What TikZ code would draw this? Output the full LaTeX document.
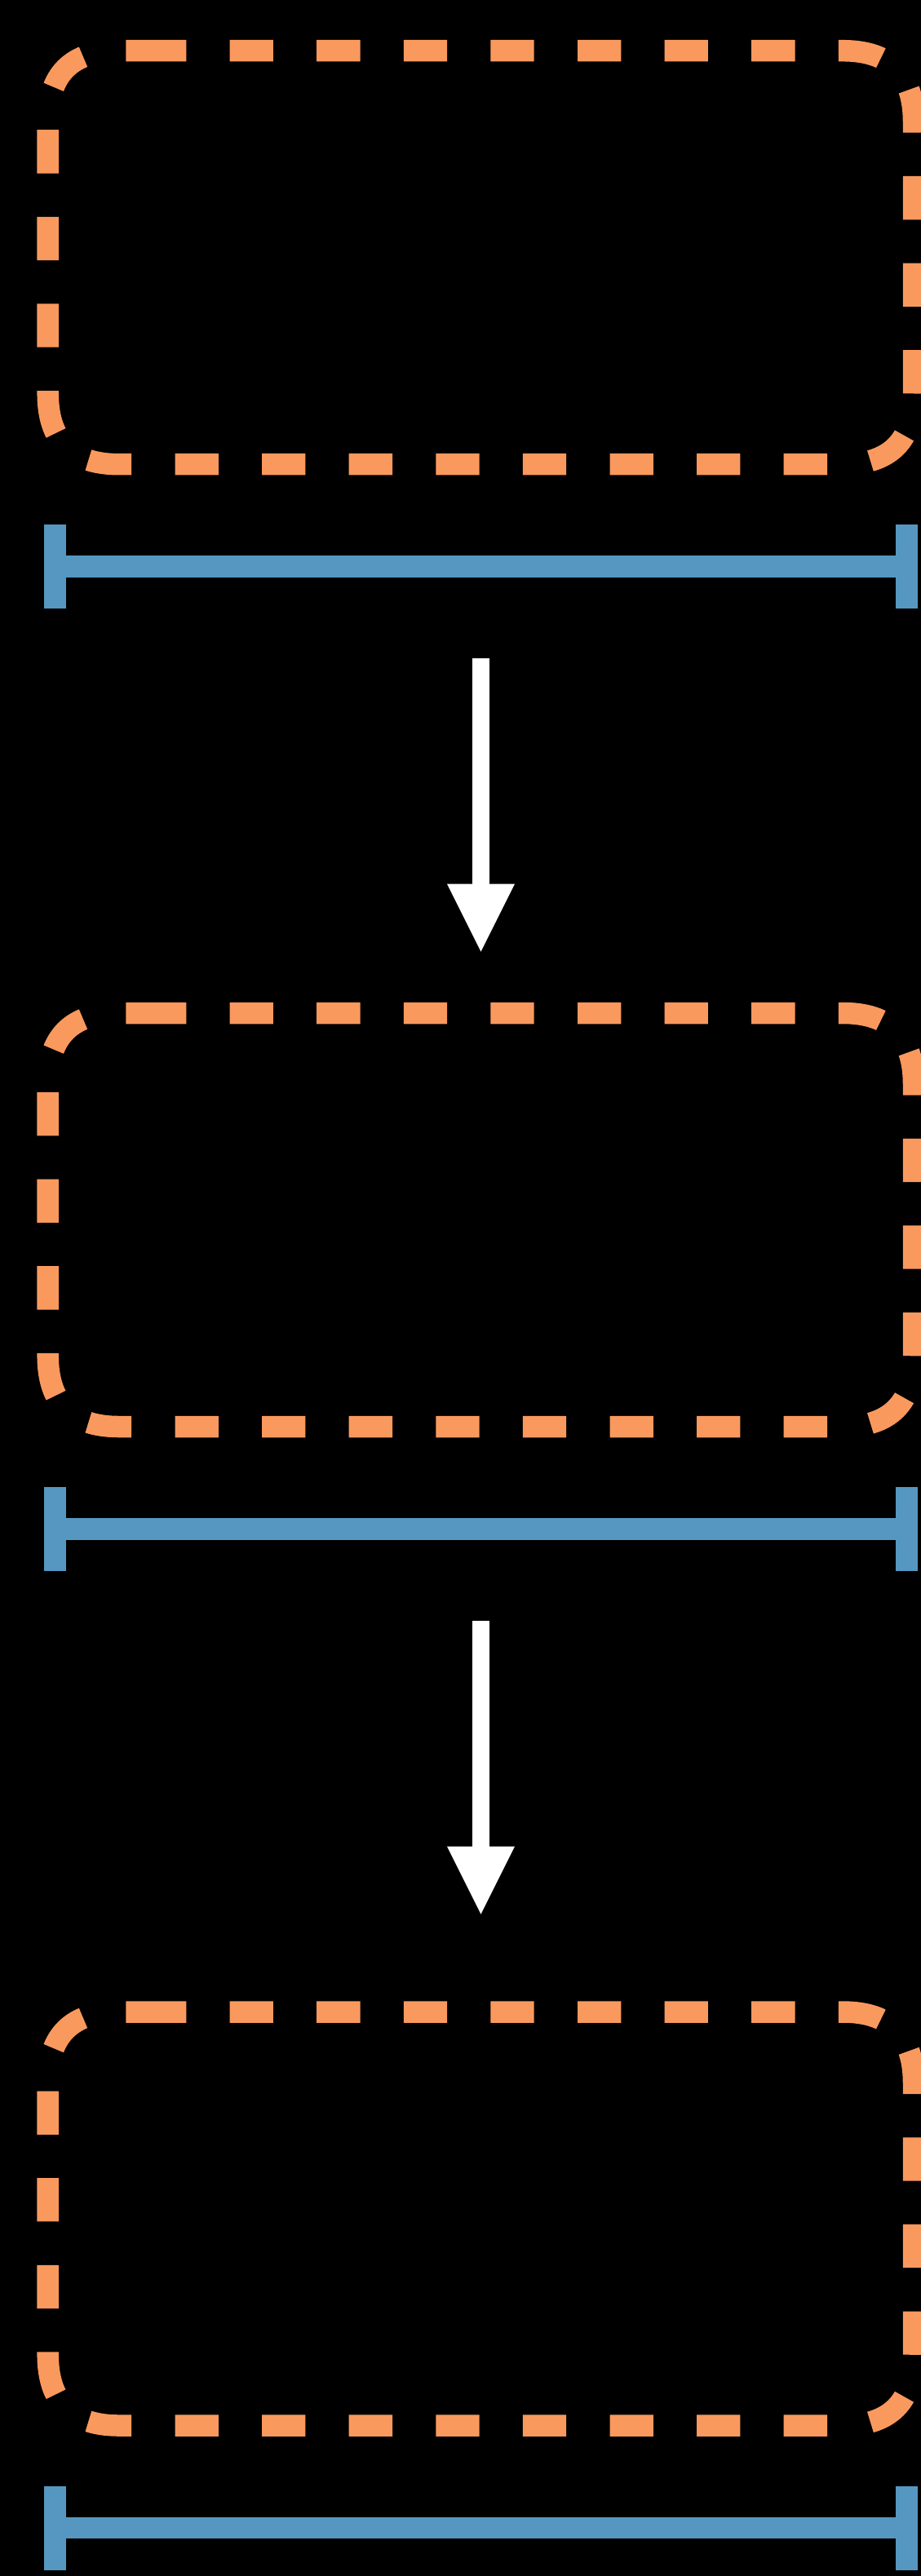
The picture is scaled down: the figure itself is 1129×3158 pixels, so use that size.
\documentclass[tikz,border=0pt]{standalone}
\usetikzlibrary{arrows.meta}
\definecolor{boxorange}{RGB}{250,153,94}
\definecolor{spanblue}{RGB}{85,151,193}
\begin{document}
\begin{tikzpicture}
[
    x=1pt, y=-1pt,
    tagbox/.style={draw=boxorange, line width=26.5pt, dash pattern=on 53.3pt off 53.3pt},
    span/.style={draw=spanblue, line width=26.5pt},
    flow/.style={draw=white, line width=21pt, -{Triangle[width=83pt,length=83pt,line width=0pt]}},
]
\fill[black] (0,0) rectangle (1129,3158);
\clip (0,0) rectangle (1129,3158);
% the three dashed boxes, each with its span bar below
\foreach \y/\n in {62.2/1, 1242/2, 2466.5/3} {
    \draw[tagbox] (175,\y) -- (1033,\y)
        .. controls (1091,\y) and (1120,\y+29) .. (1120,\y+87)
        -- (1120,\y+420)
        .. controls (1120,\y+478) and (1091,\y+507) .. (1033,\y+507)
        -- (145.7,\y+507)
        .. controls (87.7,\y+507) and (58.7,\y+478) .. (58.7,\y+420)
        -- (58.7,\y+87)
        .. controls (58.7,\y+29) and (87.7,\y) .. (145.7,\y)
        -- cycle;
    \coordinate (spanL\n) at (67.5,\y+632.5);
    \coordinate (spanR\n) at (1111.5,\y+632.5);
    \draw[span] (spanL\n) -- (spanR\n);
    \draw[span] ([yshift=51.5pt]spanL\n) -- ([yshift=-51.5pt]spanL\n);
    \draw[span] ([yshift=51.5pt]spanR\n) -- ([yshift=-51.5pt]spanR\n);
}
% arrows between the steps
\foreach \y/\n in {62.2/1, 1242/2} {
    \coordinate (flowA\n) at (589.5,\y+744.8);
    \coordinate (flowB\n) at (589.5,\y+1104.5);
    \draw[flow] (flowA\n) -- (flowB\n);
}
\end{tikzpicture}
\end{document}
